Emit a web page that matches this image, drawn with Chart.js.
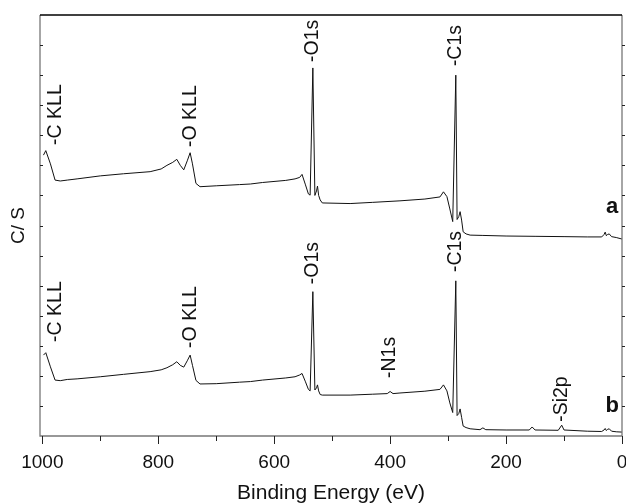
<!DOCTYPE html>
<html lang="en">
<head>
  <meta charset="UTF-8">
  <title>XPS survey spectra</title>
  <script src="https://cdn.jsdelivr.net/npm/chart.js"></script>
  <style>
    body { margin: 0; background: #fff; }
    #chart-container { width: 626px; height: 504px; }
  </style>
</head>
<body>
  <div id="chart-container">
    <canvas id="xpsChart"></canvas>
  </div>

  <script>
    // spectrum a (upper curve)
    const energyA = [998, 994, 986, 978, 969, 957, 940, 900, 860, 814, 795, 785, 775, 768, 762, 756, 750, 745, 741, 735, 728,
      700, 660, 641, 620, 580, 564, 556, 552, 546, 541, 538, 533.3, 529.8, 527, 525.3, 523.3, 520.7, 517,
      469, 430, 383, 340, 314, 308, 302, 297, 292, 286.7, 284.5, 281.5, 279.3, 276.7, 274, 269, 262,
      240, 200, 150, 100, 60, 35, 31, 29, 27, 25, 22, 18, 10, 0];
    const countsA = [9.34, 9.49, 9.05, 8.51, 8.48, 8.51, 8.55, 8.65, 8.72, 8.79, 8.88, 9.0, 9.1, 9.2, 9.0, 8.85, 9.15, 9.42, 9.05, 8.4, 8.29,
      8.32, 8.36, 8.38, 8.43, 8.5, 8.55, 8.6, 8.7, 8.35, 8.05, 8.01, 12.24, 8.0, 8.15, 8.31, 8.0, 7.85, 7.75,
      7.73, 7.77, 7.82, 7.88, 7.95, 8.12, 7.96, 7.55, 7.13, 12.0, 7.2, 7.3, 7.46, 7.18, 6.79, 6.72, 6.68,
      6.67, 6.65, 6.64, 6.63, 6.62, 6.62, 6.7, 6.78, 6.66, 6.7, 6.72, 6.63, 6.6, 6.55];

    // spectrum b (lower curve)
    const energyB = [998, 994, 986, 978, 969, 957, 940, 900, 860, 814, 795, 785, 775, 768, 762, 756, 750, 745, 741, 735, 728,
      700, 660, 641, 620, 580, 564, 556, 552, 546, 541, 538, 533.3, 529.8, 527, 525.3, 523.3, 520.7, 517,
      469, 430, 405, 400, 395, 383, 340, 314, 308, 302, 297, 292, 286.7, 284.5, 281.5, 279.3, 276.7, 274, 269, 262,
      245, 240, 235, 200, 160, 155, 150, 110, 104, 100, 60, 35, 31, 29, 27, 25, 22, 18, 10, 0];
    const countsB = [2.69, 2.77, 2.3, 1.86, 1.84, 1.88, 1.9, 1.97, 2.05, 2.14, 2.2, 2.27, 2.37, 2.47, 2.35, 2.29, 2.5, 2.69, 2.35, 1.85, 1.73,
      1.74, 1.79, 1.81, 1.86, 1.93, 1.97, 2.03, 2.08, 1.8, 1.55, 1.5, 4.8, 1.53, 1.6, 1.7, 1.5, 1.38, 1.36,
      1.36, 1.39, 1.41, 1.48, 1.41, 1.43, 1.49, 1.55, 1.7, 1.5, 1.1, 0.78, 5.16, 0.68, 0.75, 0.9, 0.62, 0.33, 0.28, 0.24,
      0.21, 0.27, 0.21, 0.2, 0.2, 0.3, 0.2, 0.19, 0.36, 0.2, 0.16, 0.15, 0.2, 0.25, 0.18, 0.22, 0.24, 0.16, 0.14, 0.13];

    // axis ticks
    const xMajorTicks = [0, 200, 400, 600, 800, 1000];
    const xMinorTicks = [100, 300, 500, 700, 900];
    const yTickValues = [1, 2, 3, 4, 5, 6, 7, 8, 9, 10, 11, 12, 13];

    // peak labels (text starts at energy / height)
    const peakNames = ['-C KLL', '-O KLL', '-O1s', '-C1s', '-C KLL', '-O KLL', '-O1s', '-C1s', '-N1s', '-Si2p'];
    const peakEnergy = [977, 745, 533, 287, 977, 745, 533, 287, 401, 105];
    const peakHeight = [9.68, 9.61, 12.44, 12.3, 3.13, 2.93, 5.05, 5.45, 1.93, 0.47];

    const curveTags = ['a', 'b'];
    const tagEnergy = [17, 17];
    const tagHeight = [7.42, 0.8];

    const FONT = "'Liberation Sans', Arial, Helvetica, sans-serif";

    const toPoints = (xs, ys) => xs.map((e, i) => ({ x: e, y: ys[i] }));

    // frame, tick marks and the text labels inside the plot
    const decorations = {
      id: 'decorations',
      afterDraw(chart) {
        const { ctx, chartArea: a, scales: { x, y } } = chart;
        ctx.save();
        ctx.lineWidth = 1.3;
        ctx.strokeStyle = '#777';
        ctx.beginPath();
        ctx.moveTo(a.left, a.top); ctx.lineTo(a.left, a.bottom); ctx.lineTo(a.right, a.bottom); ctx.lineTo(a.right, a.top);
        ctx.stroke();
        ctx.strokeStyle = '#000';
        ctx.beginPath();
        ctx.moveTo(a.left, a.top); ctx.lineTo(a.right, a.top);
        ctx.stroke();

        ctx.strokeStyle = '#222';
        ctx.lineWidth = 1;
        ctx.beginPath();
        xMajorTicks.forEach(v => {
          const px = Math.round(x.getPixelForValue(v)) + 0.5;
          ctx.moveTo(px, a.bottom); ctx.lineTo(px, a.bottom + 8);
        });
        xMinorTicks.forEach(v => {
          const px = Math.round(x.getPixelForValue(v)) + 0.5;
          ctx.moveTo(px, a.bottom); ctx.lineTo(px, a.bottom + 5);
        });
        yTickValues.forEach(v => {
          const py = Math.round(y.getPixelForValue(v)) + 0.5;
          ctx.moveTo(a.left, py); ctx.lineTo(a.left + 3, py);
          ctx.moveTo(a.right, py); ctx.lineTo(a.right + 3, py);
        });
        ctx.stroke();

        ctx.fillStyle = '#111';
        ctx.font = '19.5px ' + FONT;
        ctx.textAlign = 'left';
        ctx.textBaseline = 'middle';
        peakNames.forEach((t, i) => {
          ctx.save();
          ctx.translate(x.getPixelForValue(peakEnergy[i]), y.getPixelForValue(peakHeight[i]));
          ctx.rotate(-Math.PI / 2);
          ctx.fillText(t, 0, 0);
          ctx.restore();
        });

        ctx.font = 'bold 22px ' + FONT;
        ctx.textAlign = 'center';
        ctx.textBaseline = 'alphabetic';
        curveTags.forEach((t, i) => {
          ctx.fillText(t, x.getPixelForValue(tagEnergy[i]), y.getPixelForValue(tagHeight[i]));
        });
        ctx.restore();
      }
    };

    const ctx = document.getElementById('xpsChart').getContext('2d');
    new Chart(ctx, {
      type: 'line',
      data: {
        datasets: [
          { label: 'a', data: toPoints(energyA, countsA) },
          { label: 'b', data: toPoints(energyB, countsB) }
        ]
      },
      options: {
        responsive: true,
        maintainAspectRatio: false,
        animation: false,
        layout: { autoPadding: false, padding: { left: 0, right: 4, top: 15, bottom: 0 } },
        elements: {
          line: { borderColor: '#111', borderWidth: 1, tension: 0 },
          point: { radius: 0 }
        },
        plugins: { legend: { display: false }, tooltip: { enabled: false } },
        scales: {
          x: {
            type: 'linear',
            reverse: true,
            min: 0,
            max: 1004,
            afterFit: scale => { scale.height = 68; },
            afterBuildTicks: scale => { scale.ticks = xMajorTicks.map(v => ({ value: v })); },
            grid: { display: false, drawTicks: true, tickLength: 8 },
            border: { display: false },
            ticks: {
              color: '#111', padding: 7, maxRotation: 0, autoSkip: false,
              font: { family: FONT, size: 19 },
              callback: value => String(value)
            },
            title: {
              display: true,
              text: 'Binding Energy (eV)',
              color: '#111',
              padding: { top: 0, bottom: 0 },
              font: { family: FONT, size: 21, lineHeight: 1 }
            }
          },
          y: {
            min: 0,
            max: 14,
            afterFit: scale => { scale.width = 40; },
            grid: { display: false },
            border: { display: false },
            ticks: { display: false },
            title: {
              display: true,
              text: 'C/ S',
              color: '#111',
              padding: { top: 9, bottom: 0 },
              font: { family: FONT, size: 19, lineHeight: 1 }
            }
          }
        }
      },
      plugins: [decorations]
    });
  </script>
</body>
</html>
